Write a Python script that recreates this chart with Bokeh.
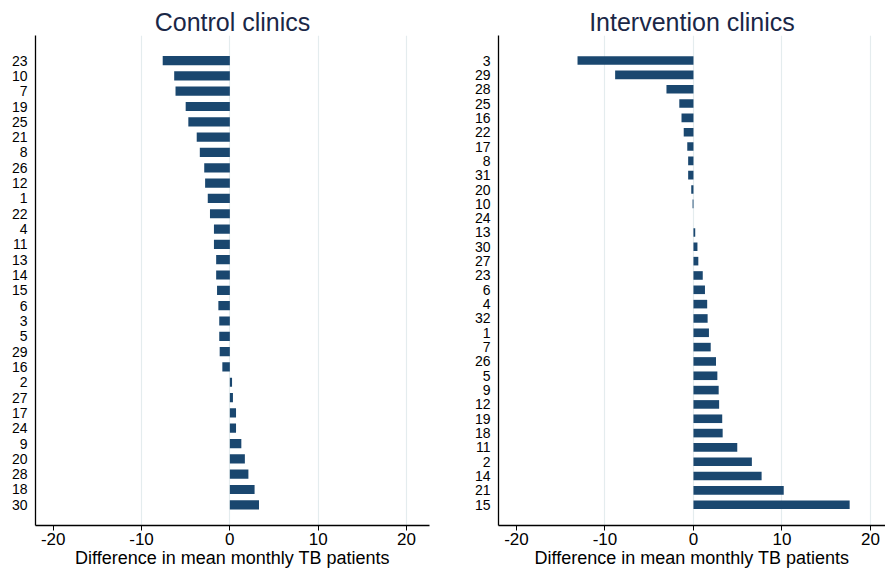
from bokeh.plotting import figure
from bokeh.layouts import row
from bokeh.models import Range1d, FixedTicker
from bokeh.embed import file_html
from bokeh.resources import INLINE

# ---- data ----
control_clinics = ["23", "10", "7", "19", "25", "21", "8", "26", "12", "1", "22", "4", "11", "13", "14",
                   "15", "6", "3", "5", "29", "16", "2", "27", "17", "24", "9", "20", "28", "18", "30"]
control_diff = [-7.6, -6.3, -6.15, -5.0, -4.7, -3.75, -3.4, -2.9, -2.8, -2.5, -2.25, -1.8, -1.8, -1.55, -1.55,
                -1.45, -1.3, -1.2, -1.2, -1.15, -0.85, 0.25, 0.35, 0.7, 0.7, 1.3, 1.7, 2.1, 2.8, 3.3]

intervention_clinics = ["3", "29", "28", "25", "16", "22", "17", "8", "31", "20", "10", "24", "13", "30", "27", "23",
                        "6", "4", "32", "1", "7", "26", "5", "9", "12", "19", "18", "11", "2", "14", "21", "15"]
intervention_diff = [-13.1, -8.85, -3.05, -1.6, -1.35, -1.1, -0.7, -0.6, -0.6, -0.25, -0.1, 0.0, 0.2, 0.45, 0.55, 1.05,
                     1.3, 1.55, 1.6, 1.75, 1.95, 2.55, 2.7, 2.85, 2.9, 3.25, 3.3, 4.95, 6.6, 7.7, 10.2, 17.65]

x_ticks = [-20, -10, 0, 10, 20]
x_tick_labels = ["-20", "-10", "0", "10", "20"]
grid_ticks = [-10, 0, 10, 20]
x_label = "Difference in mean monthly TB patients"

BAR = "#1a476f"
TITLE_C = "#1a2747"
GRID_C = "#e4ecee"
FONT = "Liberation Sans"
H = 570


def make_panel(title, clinics, diffs, width, x_start, x_end, y_top, y_bottom, mbl, mbr):
    n = len(clinics)
    ys = list(range(n))
    p = figure(width=width, height=H, output_backend="svg", toolbar_location=None,
               x_range=Range1d(x_start, x_end), y_range=Range1d(y_bottom, y_top),
               min_border_left=mbl, min_border_right=mbr, min_border_top=35, min_border_bottom=0)
    p.title.text = title
    p.title.align = "center"
    p.title.text_font = FONT
    p.title.text_font_size = "25px"
    p.title.text_font_style = "normal"
    p.title.text_color = TITLE_C
    p.title.standoff = 0
    p.title.offset = 0
    p.outline_line_color = None
    p.background_fill_color = "white"
    p.border_fill_color = "white"

    p.hbar(y=ys, left=0, right=diffs, height=0.6, color=BAR, line_color=None)

    # y axis
    yax = p.yaxis[0]
    yax.ticker = FixedTicker(ticks=ys)
    yax.major_label_overrides = {i: c for i, c in zip(ys, clinics)}
    yax.major_tick_line_color = None
    yax.major_tick_out = 0
    yax.major_tick_in = 0
    yax.minor_tick_line_color = None
    yax.minor_tick_out = 0
    yax.major_label_standoff = 8
    yax.major_label_text_font = FONT
    yax.major_label_text_font_size = "14px"
    yax.major_label_text_color = "black"
    yax.axis_line_color = "black"
    yax.axis_line_width = 1.3

    # x axis
    xax = p.xaxis[0]
    xax.ticker = FixedTicker(ticks=x_ticks)
    xax.major_label_overrides = {t: s for t, s in zip(x_ticks, x_tick_labels)}
    xax.minor_tick_line_color = None
    xax.minor_tick_out = 0
    xax.major_tick_out = 5
    xax.major_tick_in = 0
    xax.major_tick_line_color = "black"
    xax.major_label_standoff = 2
    xax.major_label_text_font = FONT
    xax.major_label_text_font_size = "17px"
    xax.major_label_text_color = "black"
    xax.axis_line_color = "black"
    xax.axis_line_width = 1.3
    xax.axis_label = x_label
    xax.axis_label_standoff = 0
    xax.axis_label_text_font = FONT
    xax.axis_label_text_font_size = "18px"
    xax.axis_label_text_font_style = "normal"
    xax.axis_label_text_color = "black"

    p.ygrid.grid_line_color = None
    p.xgrid.ticker = FixedTicker(ticks=grid_ticks)
    p.xgrid.grid_line_color = GRID_C
    p.xgrid.grid_line_width = 1.2
    return p


left = make_panel("Control clinics", control_clinics, control_diff, 444,
                  -22.0, 22.6, -1.635, 30.35, 35, 15)
right = make_panel("Intervention clinics", intervention_clinics, intervention_diff, 441,
                   -22.03, 21.7, -1.748, 32.45, 54, 0)

layout = row(left, right)
open("out.html", "w").write(file_html(layout, INLINE))
